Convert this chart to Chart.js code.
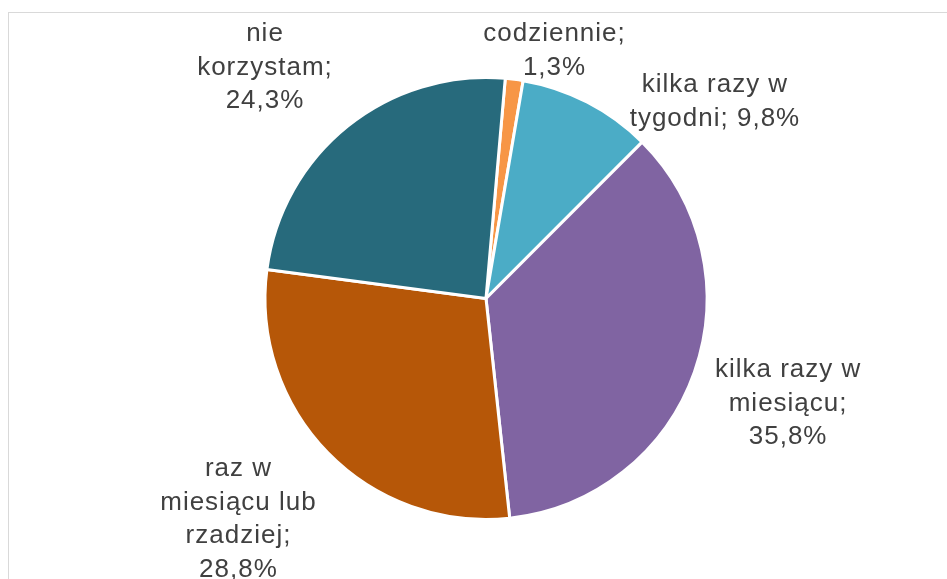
<!DOCTYPE html>
<html lang="pl">
<head>
    <meta charset="UTF-8">
    <title>Częstotliwość korzystania</title>
    <script src="https://cdn.jsdelivr.net/npm/chart.js"></script>
    <style>
        body {
            margin: 0;
            padding: 0;
            background: #ffffff;
            overflow: hidden;
        }
        .wrap {
            width: 947px;
            height: 579px;
            position: relative;
        }
    </style>
</head>
<body>
    <div class="wrap">
        <canvas id="pieChart" width="947" height="579"></canvas>
    </div>

    <script>
        // Data
        const categories = ['codziennie', 'kilka razy w tygodni', 'kilka razy w miesiącu', 'raz w miesiącu lub rzadziej', 'nie korzystam'];
        const values = [1.3, 9.8, 35.8, 28.8, 24.3];
        const labelLines = [
            ['codziennie;', '1,3%'],
            ['kilka razy w', 'tygodni; 9,8%'],
            ['kilka razy w', 'miesiącu;', '35,8%'],
            ['raz w', 'miesiącu lub', 'rzadziej;', '28,8%'],
            ['nie', 'korzystam;', '24,3%']
        ];

        // label anchor offsets, in units of the pie radius
        const labelOffsets = [[0.31, -1.12], [1.036, -0.89], [1.367, 0.475], [-1.12, 1.0], [-1.0, -1.045]];
        const colors = ['#F79646', '#4BACC6', '#8064A2', '#B65708', '#276A7C'];

        // frame around the chart area (cut off by the window)
        const framePlugin = {
            id: 'frame',
            beforeDraw(chart) {
                const ctx = chart.ctx;
                ctx.save();
                ctx.strokeStyle = '#D9D9D9';
                ctx.lineWidth = 1;
                ctx.strokeRect(8.5, 12.5, 1000, 700);
                ctx.restore();
            }
        };

        const labelPlugin = {
            id: 'outLabels',
            afterDatasetsDraw(chart) {
                const ctx = chart.ctx;
                const arc = chart.getDatasetMeta(0).data[0];
                const cx = arc.x, cy = arc.y, r = arc.outerRadius;
                const lineH = 33.5;
                ctx.save();
                ctx.fillStyle = '#404040';
                ctx.font = '26px "Liberation Sans", Arial, sans-serif';
                ctx.letterSpacing = '1px';
                ctx.textAlign = 'center';
                ctx.textBaseline = 'middle';
                labelLines.forEach((lines, i) => {
                    const x = cx + labelOffsets[i][0] * r;
                    const y = cy + labelOffsets[i][1] * r;
                    const top = y - (lines.length - 1) * lineH / 2;
                    lines.forEach((t, j) => ctx.fillText(t, x, top + j * lineH));
                });
                ctx.restore();
            }
        };

        new Chart(document.getElementById('pieChart'), {
            type: 'pie',
            data: {
                labels: categories,
                datasets: [{
                    data: values,
                    backgroundColor: colors,
                    borderColor: '#ffffff',
                    borderWidth: 3
                }]
            },
            options: {
                responsive: false,
                animation: false,
                rotation: 5,
                layout: {
                    padding: { top: 76, bottom: 58, left: 100, right: 75 }
                },
                plugins: {
                    legend: { display: false },
                    tooltip: { enabled: false },
                    title: { display: false }
                }
            },
            plugins: [framePlugin, labelPlugin]
        });
    </script>
</body>
</html>
